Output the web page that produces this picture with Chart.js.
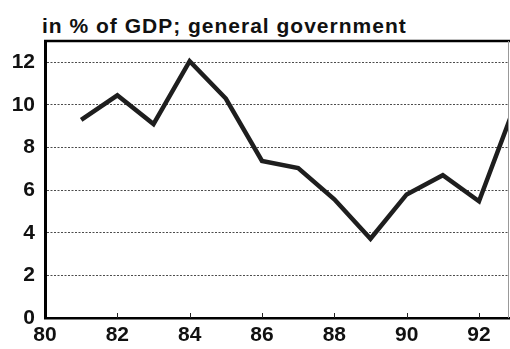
<!DOCTYPE html>
<html>
<head>
<meta charset="utf-8">
<script src="https://cdn.jsdelivr.net/npm/chart.js@4"></script>
<style>
  html, body { margin: 0; padding: 0; background: #fff; overflow: hidden; }
  #wrap { position: relative; width: 510px; height: 349px; }
  #title {
    position: absolute; left: 42px; top: 15px;
    font: bold 21px 'Liberation Sans', Arial, sans-serif;
    line-height: 21px; letter-spacing: 1px; color: #111; white-space: nowrap;
  }
  canvas { position: absolute; left: 0; top: 0; }
</style>
</head>
<body>
<div id="wrap">
  <div id="title">in % of GDP; general government</div>
  <canvas id="c" width="510" height="349"></canvas>
</div>
<script>
// data
const years = [81, 82, 83, 84, 85, 86, 87, 88, 89, 90, 91, 92, 93];
const deficit = [9.3, 10.45, 9.1, 12.05, 10.3, 7.37, 7.04, 5.57, 3.72, 5.8, 6.7, 5.48, 10.0];
const xRange = [80, 92.83];
const yRange = [0, 13];

const FONT = { family: "'Liberation Sans', Arial, sans-serif", size: 21, weight: 'bold' };

// frame top/right and small inner tick marks on the x axis
const framePlugin = {
  id: 'frame',
  afterDraw(chart) {
    const { ctx, chartArea: a, scales } = chart;
    ctx.save();
    ctx.strokeStyle = '#000';
    ctx.lineWidth = 2.5;
    ctx.beginPath();
    ctx.moveTo(a.left - 1, a.top);
    ctx.lineTo(a.right + 1, a.top);
    ctx.stroke();
    ctx.strokeStyle = '#999';
    ctx.lineWidth = 1;
    ctx.beginPath();
    ctx.moveTo(a.right - 0.5, a.top);
    ctx.lineTo(a.right - 0.5, a.bottom);
    ctx.stroke();
    ctx.strokeStyle = '#222';
    ctx.lineWidth = 1;
    scales.x.ticks.forEach(t => {
      if (t.value === xRange[0]) return;
      const px = Math.round(scales.x.getPixelForValue(t.value)) + 0.5;
      ctx.beginPath();
      ctx.moveTo(px, a.bottom);
      ctx.lineTo(px, a.bottom - 5);
      ctx.stroke();
    });
    ctx.restore();
  }
};

new Chart(document.getElementById('c'), {
  type: 'line',
  data: {
    datasets: [{
      data: years.map((y, i) => ({ x: y, y: deficit[i] })),
      borderColor: '#1e1e1e',
      borderWidth: 4.5,
      borderJoinStyle: 'miter',
      pointRadius: 0,
      tension: 0,
      fill: false
    }]
  },
  options: {
    responsive: false,
    animation: false,
    layout: { padding: { top: 41, right: 1, left: 0, bottom: 0 } },
    plugins: { legend: { display: false }, tooltip: { enabled: false } },
    scales: {
      x: {
        type: 'linear',
        min: xRange[0],
        max: xRange[1],
        afterFit(s) { s.height = 31; },
        grid: { display: false, drawTicks: false },
        border: { color: '#000', width: 2.5 },
        ticks: { stepSize: 2, includeBounds: false, color: '#111', font: FONT, padding: 5, maxRotation: 0 }
      },
      y: {
        min: yRange[0],
        max: yRange[1],
        afterFit(s) { s.width = 45; },
        grid: {
          drawTicks: false,
          color: c => c.tick && c.tick.value === 0 ? 'rgba(0,0,0,0)' : 'rgba(30,30,30,0.8)',
          lineWidth: 1
        },
        border: { color: '#000', width: 3, dash: [2, 1.5] },
        ticks: { stepSize: 2, includeBounds: false, color: '#111', font: FONT, padding: 10 }
      }
    }
  },
  plugins: [framePlugin]
});
</script>
</body>
</html>
